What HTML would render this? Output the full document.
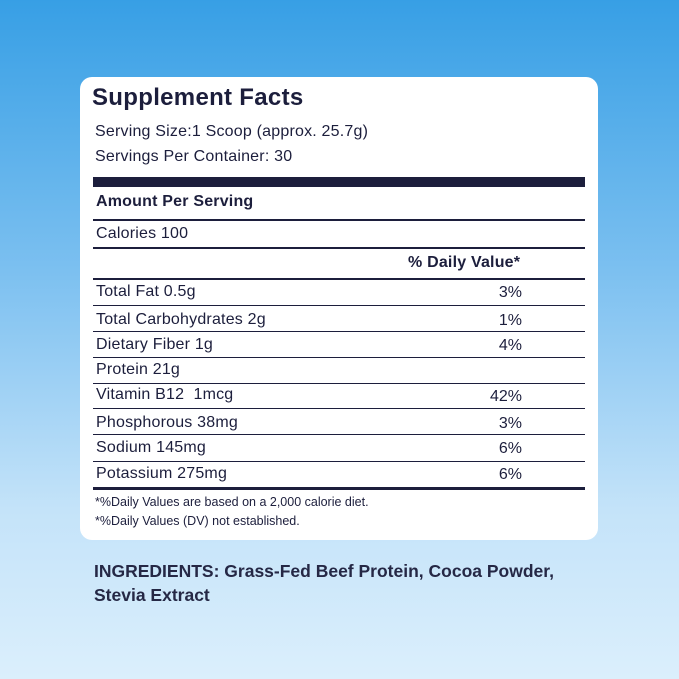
<!DOCTYPE html>
<html><head><style>
body{margin:0;width:679px;height:679px;overflow:hidden;background:linear-gradient(180deg,#379fe5 0%,#7cc0f0 40%,#c4e3f9 75%,#dbeffc 100%);font-family:"Liberation Sans",sans-serif;color:#1c1e3c;position:relative}
.card{position:absolute;left:80px;top:77px;width:518px;height:463px;background:#fff;border-radius:12px}
.t{position:absolute;white-space:nowrap;line-height:1}
.l{position:absolute;left:93px;width:492px;background:#1c1e3c}
.r{position:absolute;right:157px;white-space:nowrap;line-height:1;font-size:16px}
.b{font-size:16px;letter-spacing:0.2px}
</style></head><body>
<div class="card"></div>
<div class="t" style="left:92px;top:86px;font-size:24px;font-weight:bold;letter-spacing:0.3px">Supplement Facts</div>
<div class="t b" style="left:95px;top:124px">Serving Size:1 Scoop (approx. 25.7g)</div>
<div class="t b" style="left:95px;top:149px">Servings Per Container: 30</div>
<div class="l" style="top:177px;height:10px"></div>
<div class="t b" style="left:96px;top:194px;font-weight:bold">Amount Per Serving</div>
<div class="l" style="top:219px;height:2px"></div>
<div class="t b" style="left:96px;top:226px">Calories 100</div>
<div class="l" style="top:247px;height:2px"></div>
<div class="t b" style="left:408px;top:255px;font-weight:bold">% Daily Value*</div>
<div class="l" style="top:278px;height:2px"></div>
<div class="t b" style="left:96px;top:284px">Total Fat 0.5g</div><div class="r" style="top:285px">3%</div>
<div class="l" style="top:305px;height:1px"></div>
<div class="t b" style="left:96px;top:312px">Total Carbohydrates 2g</div><div class="r" style="top:313px">1%</div>
<div class="l" style="top:331px;height:1px"></div>
<div class="t b" style="left:96px;top:337px">Dietary Fiber 1g</div><div class="r" style="top:338px">4%</div>
<div class="l" style="top:357px;height:1px"></div>
<div class="t b" style="left:96px;top:362px">Protein 21g</div>
<div class="l" style="top:383px;height:1px"></div>
<div class="t b" style="left:96px;top:387px">Vitamin B12&nbsp; 1mcg</div><div class="r" style="top:389px">42%</div>
<div class="l" style="top:408px;height:1px"></div>
<div class="t b" style="left:96px;top:415px">Phosphorous 38mg</div><div class="r" style="top:416px">3%</div>
<div class="l" style="top:434px;height:1px"></div>
<div class="t b" style="left:96px;top:440px">Sodium 145mg</div><div class="r" style="top:441px">6%</div>
<div class="l" style="top:461px;height:1px"></div>
<div class="t b" style="left:96px;top:466px">Potassium 275mg</div><div class="r" style="top:467px">6%</div>
<div class="l" style="top:487px;height:3px"></div>
<div class="t" style="left:95px;top:496px;font-size:12.5px">*%Daily Values are based on a 2,000 calorie diet.</div>
<div class="t" style="left:95px;top:515px;font-size:12.5px">*%Daily Values (DV) not established.</div>
<div class="t" style="left:94px;top:563px;font-size:17.5px;font-weight:bold;color:#252845">INGREDIENTS: Grass-Fed Beef Protein, Cocoa Powder,</div>
<div class="t" style="left:94px;top:587px;font-size:17.5px;font-weight:bold;color:#252845">Stevia Extract</div>
</body></html>
